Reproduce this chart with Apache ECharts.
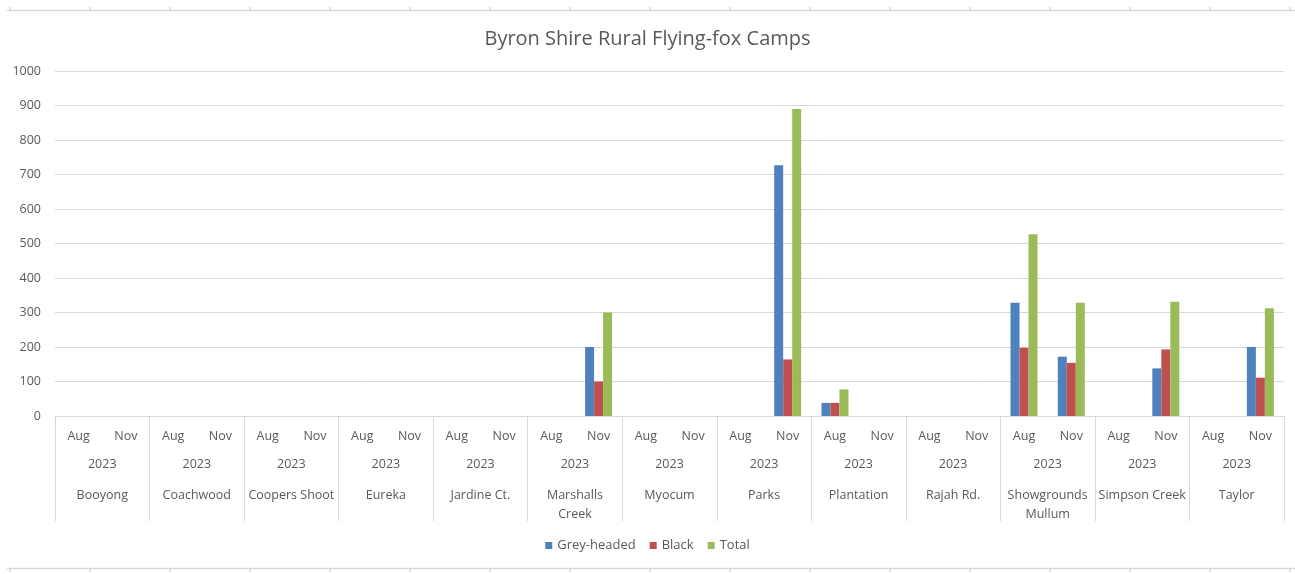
<!DOCTYPE html>
<html>
<head>
<meta charset="utf-8">
<script src="https://cdn.jsdelivr.net/npm/echarts@6/dist/echarts.min.js"></script>
<style>html,body{margin:0;padding:0;background:#fff;}#c{width:1295px;height:574px;}</style>
</head>
<body>
<div id="c"></div>
<script>
var camps = ['Booyong','Coachwood','Coopers Shoot','Eureka','Jardine Ct.','Marshalls\nCreek','Myocum','Parks','Plantation','Rajah Rd.','Showgrounds\nMullum','Simpson Creek','Taylor'];
var months = ['Aug','Nov'];
var years = ['2023'];
var yTicks = [0,100,200,300,400,500,600,700,800,900,1000];
// values per category (camp x month), null = no record
var greyHeaded = [null,null, null,null, null,null, null,null, null,null, null,200, null,null, null,727, 38,null, null,null, 328,172, null,138, null,200];
var black      = [null,null, null,null, null,null, null,null, null,null, null,100, null,null, null,164, 38,null, null,null, 198,154, null,193, null,111];
var total      = [null,null, null,null, null,null, null,null, null,null, null,300, null,null, null,890, 77,null, null,null, 527,328, null,331, null,312];

var monthCats = [];
camps.forEach(function(){ months.forEach(function(m){ monthCats.push(m); }); });
var yearCats = camps.map(function(){ return years[0]; });

var txt = '#595959', grid = '#d9d9d9', font = 'Open Sans';
var chart = echarts.init(document.getElementById('c'));

var gfx = [
  {type:'line', shape:{x1:7,y1:10.5,x2:1295,y2:10.5}, style:{stroke:grid,lineWidth:1.5}, silent:true},
  {type:'line', shape:{x1:7,y1:568.5,x2:1295,y2:568.5}, style:{stroke:grid,lineWidth:1.5}, silent:true}
];
for (var x = 10; x < 1295; x += 80) {
  gfx.push({type:'line', shape:{x1:x,y1:7,x2:x,y2:10}, style:{stroke:grid,lineWidth:1.5}, silent:true});
  gfx.push({type:'line', shape:{x1:x,y1:569,x2:x,y2:572}, style:{stroke:grid,lineWidth:1.5}, silent:true});
}

chart.setOption({
  backgroundColor:'#fff',
  animation:false,
  textStyle:{fontFamily:font},
  title:{text:'Byron Shire Rural Flying-fox Camps', left:'center', top:24,
    textStyle:{fontFamily:font, fontSize:20, fontWeight:'normal', color:txt}},
  legend:{bottom:17, left:'center', itemWidth:7, itemHeight:7, itemGap:14, icon:'rect',
    textStyle:{fontFamily:font, fontSize:13, color:txt}},
  grid:{left:55, right:11, top:71, bottom:158},
  graphic: gfx,
  xAxis:[
    {type:'category', data:monthCats, position:'bottom',
     axisLine:{show:true, lineStyle:{color:grid, width:1}},
     axisTick:{show:false},
     axisLabel:{interval:0, margin:14, color:txt, fontSize:12.5, fontFamily:font}},
    {type:'category', data:yearCats, position:'bottom', offset:0,
     axisLine:{show:false},
     axisTick:{show:true, interval:0, length:105, lineStyle:{color:grid, width:1}},
     axisLabel:{interval:0, margin:42, color:txt, fontSize:12.5, fontFamily:font}},
    {type:'category', data:camps, position:'bottom', offset:0,
     axisLine:{show:false},
     axisTick:{show:false},
     axisLabel:{interval:0, margin:70, color:txt, fontSize:12.5, fontFamily:font, lineHeight:19}}
  ],
  yAxis:{type:'value', min:0, max:1000, interval:100,
    axisLine:{show:false}, axisTick:{show:false},
    splitLine:{lineStyle:{color:grid, width:1}},
    axisLabel:{color:txt, fontSize:12.5, fontFamily:font, margin:14,
      formatter:function(v){ return yTicks.indexOf(v) >= 0 ? String(v) : ''; }}},
  series:[
    {name:'Grey-headed', type:'bar', xAxisIndex:0, data:greyHeaded, barWidth:9, barGap:'0%', itemStyle:{color:'#4F81BD'}},
    {name:'Black', type:'bar', xAxisIndex:0, data:black, barWidth:9, barGap:'0%', itemStyle:{color:'#C0504D'}},
    {name:'Total', type:'bar', xAxisIndex:0, data:total, barWidth:9, barGap:'0%', itemStyle:{color:'#9BBB59'}}
  ]
});
</script>
</body>
</html>
